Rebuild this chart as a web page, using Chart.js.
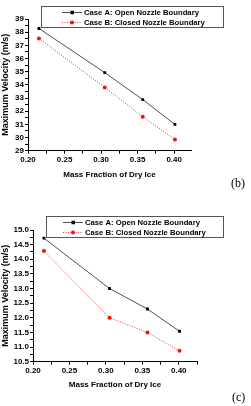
<!DOCTYPE html>
<html>
<head>
<meta charset="utf-8">
<script src="https://cdn.jsdelivr.net/npm/chart.js@4"></script>
<style>
  html, body { margin: 0; padding: 0; background: #fff; }
  body { width: 251px; height: 406px; position: relative; overflow: hidden; }
  .wrap { position: absolute; left: 0; width: 251px; height: 180px; }
  .tag { position: absolute; font-family: "Liberation Serif", serif; font-size: 12px; color: #000; }
</style>
</head>
<body>
<div class="wrap" style="top:0"><canvas id="chartB" width="251" height="180"></canvas></div>
<div class="wrap" style="top:210px"><canvas id="chartC" width="251" height="180"></canvas></div>
<div class="tag" style="left:231px; top:176px">(b)</div>
<div class="tag" style="left:232px; top:390px">(c)</div>
<script>
const massFraction = [0.215, 0.305, 0.357, 0.401];
const seriesLabels = ['Case A: Open Nozzle Boundary', 'Case B: Closed Nozzle Boundary'];

// panel (b)
const openB = [38.28, 34.93, 32.88, 31.0];
const closedB = [37.52, 33.8, 31.58, 29.85];

// panel (c)
const openC = [14.72, 13.0, 12.3, 11.54];
const closedC = [14.28, 12.0, 11.5, 10.87];

const FONT = 'Liberation Sans, Arial, sans-serif';

// Origin style boxed legend, drawn over the plot
const legendBox = {
  id: 'legendBox',
  afterDraw(chart, args, opts) {
    const ctx = chart.ctx;
    ctx.save();
    ctx.fillStyle = '#fff';
    ctx.fillRect(opts.x, opts.y, opts.w, opts.h);
    ctx.strokeStyle = '#555';
    ctx.lineWidth = 1;
    ctx.strokeRect(opts.x + 0.5, opts.y + 0.5, opts.w, opts.h);
    chart.data.datasets.forEach((ds, i) => {
      const cy = opts.y + 6.5 + i * 10;
      const lx = opts.x + opts.lineStart;
      ctx.strokeStyle = ds.borderColor;
      ctx.lineWidth = ds.borderWidth;
      ctx.setLineDash(ds.borderDash || []);
      ctx.beginPath();
      ctx.moveTo(lx, cy);
      ctx.lineTo(lx + 20, cy);
      ctx.stroke();
      ctx.setLineDash([]);
      ctx.fillStyle = ds.pointBackgroundColor;
      if (ds.pointStyle === 'rect') {
        ctx.fillRect(lx + 8.5, cy - 1.75, 3.5, 3.5);
      } else {
        ctx.beginPath();
        ctx.arc(lx + 10, cy, 2, 0, Math.PI * 2);
        ctx.fill();
      }
      ctx.fillStyle = '#000';
      ctx.font = 'bold 7.7px ' + FONT;
      ctx.textBaseline = 'middle';
      ctx.fillText(ds.label, lx + 22, cy + 0.5);
    });
    ctx.restore();
  }
};

function makeDatasets(openVals, closedVals) {
  return [
    {
      label: seriesLabels[0],
      data: massFraction.map((x, i) => ({ x: x, y: openVals[i] })),
      borderColor: '#222',
      borderWidth: 0.8,
      pointStyle: 'rect',
      pointRadius: 2,
      pointBackgroundColor: '#000',
      pointBorderWidth: 0,
    },
    {
      label: seriesLabels[1],
      data: massFraction.map((x, i) => ({ x: x, y: closedVals[i] })),
      borderColor: '#ff3030',
      borderWidth: 1,
      borderDash: [1, 1.5],
      pointStyle: 'circle',
      pointRadius: 2,
      pointBackgroundColor: '#ee1111',
      pointBorderWidth: 0,
    },
  ];
}

function makeChart(id, openVals, closedVals, cfg) {
  return new Chart(document.getElementById(id), {
    type: 'line',
    data: { datasets: makeDatasets(openVals, closedVals) },
    plugins: [legendBox],
    options: {
      responsive: false,
      animation: false,
      layout: { padding: { top: cfg.top, right: cfg.right, left: 0, bottom: 0 } },
      plugins: {
        legend: { display: false },
        tooltip: { enabled: false },
        legendBox: cfg.legend,
      },
      scales: {
        x: {
          type: 'linear',
          min: 0.2,
          max: cfg.xMax,
          afterFit: s => { s.height = cfg.xHeight; },
          afterBuildTicks: s => {
            s.ticks = [];
            for (let k = 0; 0.2 + k * 0.025 <= cfg.xMax + 1e-9; k++) s.ticks.push({ value: +(0.2 + k * 0.025).toFixed(3) });
          },
          grid: { drawOnChartArea: false, drawTicks: true, tickLength: 3, color: '#000' },
          border: { display: true, color: '#000', width: 1 },
          ticks: {
            autoSkip: false,
            maxRotation: 0,
            padding: 1,
            color: '#000',
            font: { family: FONT, size: 8, weight: 'bold' },
            callback: v => (Math.round(v * 1000) % 50 === 0 ? v.toFixed(2) : ''),
          },
          title: {
            display: true,
            text: 'Mass Fraction of Dry Ice',
            color: '#000',
            font: { family: FONT, size: 8, weight: 'bold' },
            padding: { top: 4, bottom: 0 },
          },
        },
        y: {
          min: cfg.yMin,
          max: cfg.yMax,
          afterFit: s => { s.width = cfg.yWidth; },
          afterBuildTicks: s => {
            s.ticks = [];
            const n = Math.round((cfg.yMax - cfg.yMin) / cfg.yMinor);
            for (let k = 0; k <= n; k++) s.ticks.push({ value: +(cfg.yMin + k * cfg.yMinor).toFixed(3) });
          },
          grid: { drawOnChartArea: false, drawTicks: true, tickLength: 3, color: '#000' },
          border: { display: true, color: '#000', width: 1 },
          ticks: {
            autoSkip: false,
            padding: 1,
            color: '#000',
            font: { family: FONT, size: 8, weight: 'bold' },
            callback: cfg.yLabel,
          },
          title: {
            display: true,
            text: 'Maximum Velocity (m/s)',
            color: '#000',
            font: { family: FONT, size: 9, weight: 'bold' },
            padding: { top: 0, bottom: 0 },
          },
        },
      },
    },
  });
}

makeChart('chartB', openB, closedB, {
  top: 19, right: 60, xHeight: 29.3, yWidth: 28, xMax: 0.423,
  yMin: 29, yMax: 39, yMinor: 0.5,
  yLabel: v => (Math.abs(v - Math.round(v)) < 1e-6 ? String(Math.round(v)) : ''),
  legend: { x: 41, y: 6, w: 182, h: 21, lineStart: 21 },
});

makeChart('chartC', openC, closedC, {
  top: 20, right: 54, xHeight: 28.3, yWidth: 33, xMax: 0.425,
  yMin: 10.5, yMax: 15, yMinor: 0.25,
  yLabel: v => (Math.abs(v * 2 - Math.round(v * 2)) < 1e-6 ? v.toFixed(1) : ''),
  legend: { x: 46, y: 6, w: 177, h: 21, lineStart: 17 },
});
</script>
</body>
</html>
